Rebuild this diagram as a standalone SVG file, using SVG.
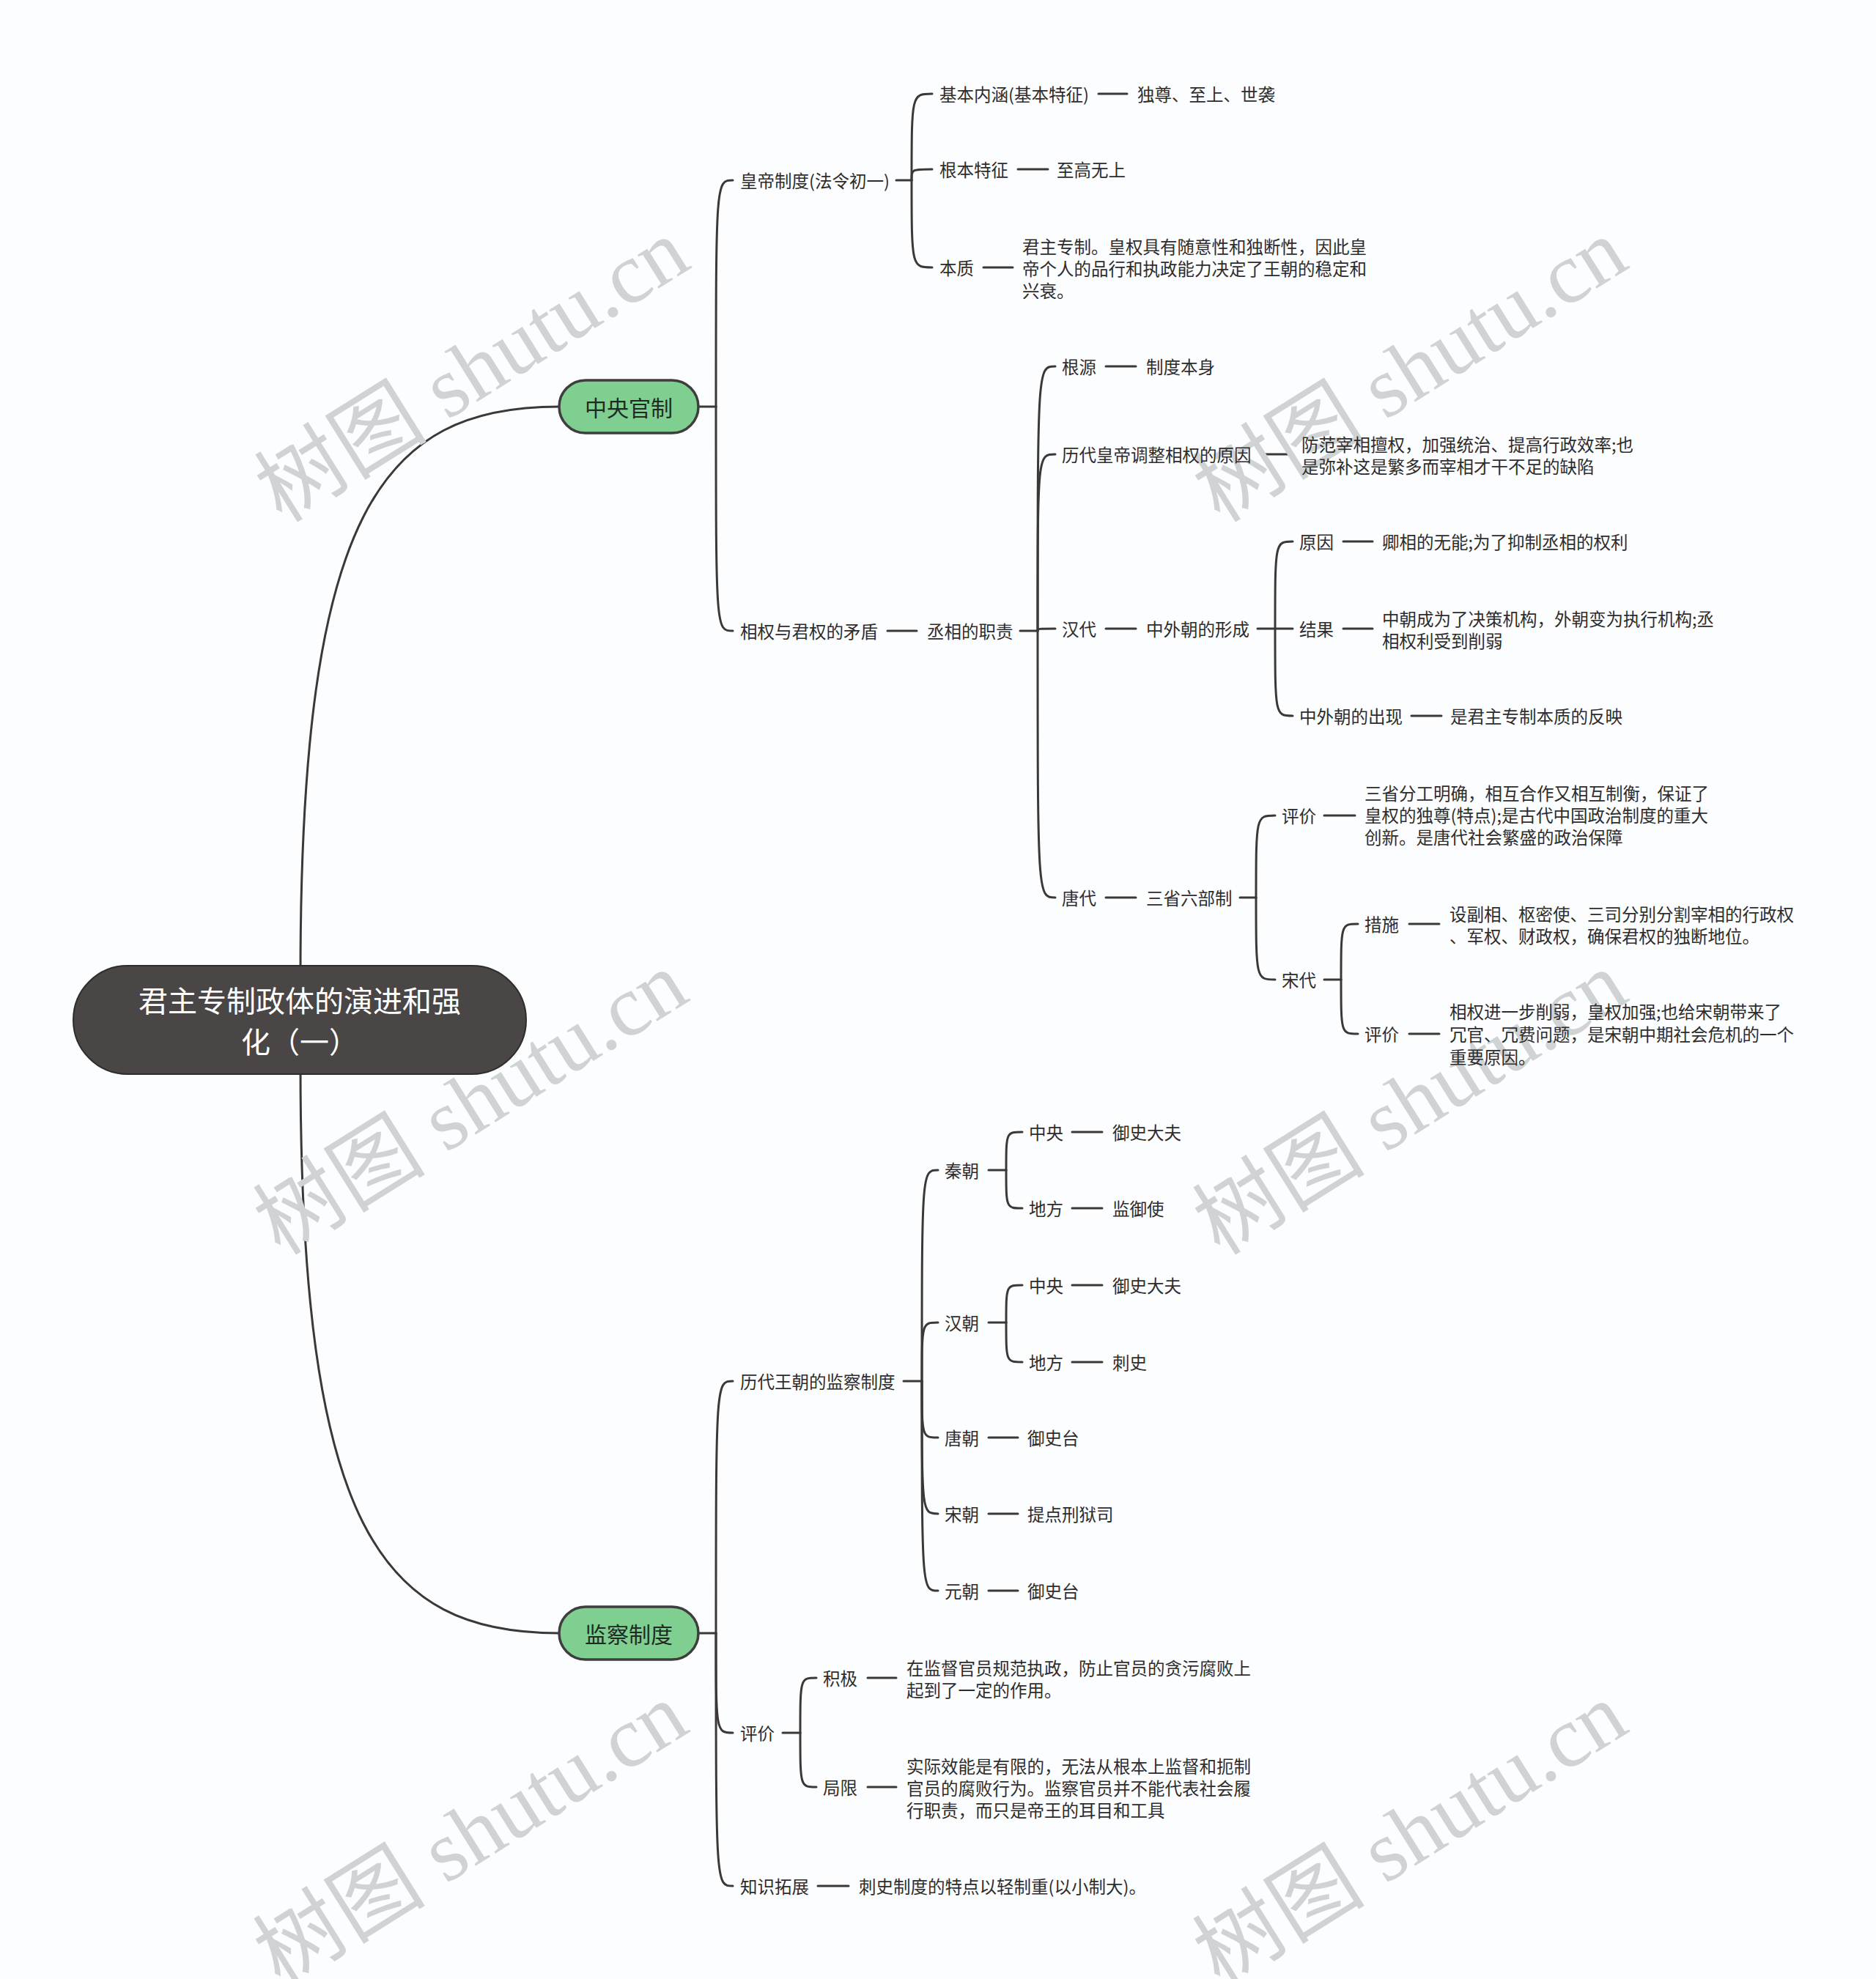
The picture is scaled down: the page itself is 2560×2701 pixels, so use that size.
<svg xmlns="http://www.w3.org/2000/svg" width="2560" height="2701" viewBox="0 0 2560 2701">
<style>
.t{font-family:"Noto Sans CJK SC","Noto Sans",sans-serif;font-size:23.5px;fill:#2e2c2c;dominant-baseline:central}
.c{fill:none;stroke:#3b3838;stroke-width:3;stroke-linecap:round}
.wm{font-family:"Liberation Serif","Noto Sans CJK SC",serif;font-size:118px;fill:#d0d3d4;text-anchor:middle}
.mn{fill:#7fcf91;stroke:#3f3d3d;stroke-width:3.5}
.mt{font-family:"Noto Sans CJK SC",sans-serif;font-size:30px;fill:#1f2a22;text-anchor:middle;dominant-baseline:central}
</style>
<rect width="2560" height="2701" fill="#fbfdfe"/>
<g id="connectors">
<path class="c" d="M410,1330 C410,700 520,555 763,555"/>
<path class="c" d="M410,1455 C410,2085 520,2229 763,2229"/>
<path class="c" d="M953,555 H977"/>
<path class="c" d="M977,555 C977,246 977,246 1000,246"/>
<path class="c" d="M977,555 C977,861 977,861 1000,861"/>
<path class="c" d="M1223,246 H1244"/>
<path class="c" d="M1244,246 C1244,128 1244,128 1272,128"/>
<path class="c" d="M1244,246 C1244,231 1244,231 1272,231"/>
<path class="c" d="M1244,246 C1244,365 1244,365 1272,365"/>
<path class="c" d="M1499,128 H1538"/>
<path class="c" d="M1389,231 H1430"/>
<path class="c" d="M1342,365 H1382"/>
<path class="c" d="M1211,861 H1251"/>
<path class="c" d="M1392,861 H1416"/>
<path class="c" d="M1416,861 C1416,500 1416,500 1440,500"/>
<path class="c" d="M1416,861 C1416,620 1416,620 1440,620"/>
<path class="c" d="M1416,861 C1416,858 1416,858 1440,858"/>
<path class="c" d="M1416,861 C1416,1225 1416,1225 1440,1225"/>
<path class="c" d="M1509,500 H1550"/>
<path class="c" d="M1723,620 H1762"/>
<path class="c" d="M1509,858 H1550"/>
<path class="c" d="M1716,858 H1740"/>
<path class="c" d="M1740,858 C1740,739 1740,739 1764,739"/>
<path class="c" d="M1740,858 H1764"/>
<path class="c" d="M1740,858 C1740,977 1740,977 1764,977"/>
<path class="c" d="M1833,739 H1873"/>
<path class="c" d="M1833,858 H1873"/>
<path class="c" d="M1926,977 H1967"/>
<path class="c" d="M1509,1225 H1550"/>
<path class="c" d="M1692,1225 H1714"/>
<path class="c" d="M1714,1225 C1714,1113 1714,1113 1740,1113"/>
<path class="c" d="M1714,1225 C1714,1337 1714,1337 1740,1337"/>
<path class="c" d="M1807,1113 H1849"/>
<path class="c" d="M1807,1337 H1830"/>
<path class="c" d="M1830,1337 C1830,1261 1830,1261 1853,1261"/>
<path class="c" d="M1830,1337 C1830,1411 1830,1411 1853,1411"/>
<path class="c" d="M1923,1261 H1964"/>
<path class="c" d="M1923,1411 H1964"/>
<path class="c" d="M953,2229 H977"/>
<path class="c" d="M977,2229 C977,1885 977,1885 1000,1885"/>
<path class="c" d="M977,2229 C977,2365 977,2365 1000,2365"/>
<path class="c" d="M977,2229 C977,2574 977,2574 1000,2574"/>
<path class="c" d="M1233,1885 H1258"/>
<path class="c" d="M1258,1885 C1258,1597 1258,1597 1280,1597"/>
<path class="c" d="M1258,1885 C1258,1805 1258,1805 1280,1805"/>
<path class="c" d="M1258,1885 C1258,1962 1258,1962 1280,1962"/>
<path class="c" d="M1258,1885 C1258,2066 1258,2066 1280,2066"/>
<path class="c" d="M1258,1885 C1258,2171 1258,2171 1280,2171"/>
<path class="c" d="M1349,1597 H1373"/>
<path class="c" d="M1373,1597 C1373,1545 1373,1545 1395,1545"/>
<path class="c" d="M1373,1597 C1373,1649 1373,1649 1395,1649"/>
<path class="c" d="M1463,1545 H1504"/>
<path class="c" d="M1463,1649 H1504"/>
<path class="c" d="M1349,1805 H1373"/>
<path class="c" d="M1373,1805 C1373,1754 1373,1754 1395,1754"/>
<path class="c" d="M1373,1805 C1373,1859 1373,1859 1395,1859"/>
<path class="c" d="M1463,1754 H1504"/>
<path class="c" d="M1463,1859 H1504"/>
<path class="c" d="M1349,1962 H1389"/>
<path class="c" d="M1349,2066 H1389"/>
<path class="c" d="M1349,2171 H1389"/>
<path class="c" d="M1068,2365 H1092"/>
<path class="c" d="M1092,2365 C1092,2290 1092,2290 1114,2290"/>
<path class="c" d="M1092,2365 C1092,2439 1092,2439 1114,2439"/>
<path class="c" d="M1184,2290 H1223"/>
<path class="c" d="M1184,2439 H1223"/>
<path class="c" d="M1116,2574 H1158"/>
</g>
<g id="watermarks">
<text class="wm" x="646" y="545" transform="rotate(-32 646 508)">树图 shutu.cn</text>
<text class="wm" x="1926" y="545" transform="rotate(-32 1926 508)">树图 shutu.cn</text>
<text class="wm" x="644" y="1545" transform="rotate(-32 644 1508)">树图 shutu.cn</text>
<text class="wm" x="1926" y="1545" transform="rotate(-32 1926 1508)">树图 shutu.cn</text>
<text class="wm" x="644" y="2543" transform="rotate(-32 644 2506)">树图 shutu.cn</text>
<text class="wm" x="1926" y="2543" transform="rotate(-32 1926 2506)">树图 shutu.cn</text>
</g>
<g id="root">
<rect x="100" y="1318" width="618" height="148" rx="74" fill="#4a4646" stroke="#2f2c2c" stroke-width="2"/>
<text x="409" y="1364" font-family="Noto Sans CJK SC,sans-serif" font-size="40" fill="#ffffff" text-anchor="middle" dominant-baseline="central">君主专制政体的演进和强</text>
<text x="409" y="1420" font-family="Noto Sans CJK SC,sans-serif" font-size="40" fill="#ffffff" text-anchor="middle" dominant-baseline="central">化（一）</text>
</g>
<g id="n-zygz">
<rect class="mn" x="763" y="519" width="190" height="72" rx="36"/>
<text class="mt" x="858" y="555">中央官制</text>
</g>
<g id="n-jczd">
<rect class="mn" x="763" y="2193" width="190" height="72" rx="36"/>
<text class="mt" x="858" y="2229">监察制度</text>
</g>
<g id="n-hdzd"><text class="t" x="1010" y="246">皇帝制度(法令初一)</text></g>
<g id="n-jbnh"><text class="t" x="1282" y="128">基本内涵(基本特征)</text></g>
<g id="n-dz"><text class="t" x="1552" y="128">独尊、至上、世袭</text></g>
<g id="n-gbtz"><text class="t" x="1282" y="231">根本特征</text></g>
<g id="n-zgws"><text class="t" x="1442" y="231">至高无上</text></g>
<g id="n-bz"><text class="t" x="1282" y="365">本质</text></g>
<g id="n-bz-v">
<text class="t" x="1395" y="336">君主专制。皇权具有随意性和独断性，因此皇</text>
<text class="t" x="1395" y="366">帝个人的品行和执政能力决定了王朝的稳定和</text>
<text class="t" x="1395" y="396">兴衰。</text>
</g>
<g id="n-xq"><text class="t" x="1010" y="861">相权与君权的矛盾</text></g>
<g id="n-cxzz"><text class="t" x="1265" y="861">丞相的职责</text></g>
<g id="n-gy"><text class="t" x="1449" y="500">根源</text></g>
<g id="n-zdbs"><text class="t" x="1564" y="500">制度本身</text></g>
<g id="n-ldhd"><text class="t" x="1449" y="620">历代皇帝调整相权的原因</text></g>
<g id="n-ldhd-v">
<text class="t" x="1776" y="606">防范宰相擅权，加强统治、提高行政效率;也</text>
<text class="t" x="1776" y="636">是弥补这是繁多而宰相才干不足的缺陷</text>
</g>
<g id="n-hd"><text class="t" x="1449" y="858">汉代</text></g>
<g id="n-zwc"><text class="t" x="1564" y="858">中外朝的形成</text></g>
<g id="n-yy"><text class="t" x="1773" y="739">原因</text></g>
<g id="n-yy-v"><text class="t" x="1886" y="739">卿相的无能;为了抑制丞相的权利</text></g>
<g id="n-jg"><text class="t" x="1773" y="858">结果</text></g>
<g id="n-jg-v">
<text class="t" x="1886" y="844">中朝成为了决策机构，外朝变为执行机构;丞</text>
<text class="t" x="1886" y="874">相权利受到削弱</text>
</g>
<g id="n-zwccx"><text class="t" x="1773" y="977">中外朝的出现</text></g>
<g id="n-zwccx-v"><text class="t" x="1979" y="977">是君主专制本质的反映</text></g>
<g id="n-td"><text class="t" x="1449" y="1225">唐代</text></g>
<g id="n-ssl"><text class="t" x="1564" y="1225">三省六部制</text></g>
<g id="n-pj1"><text class="t" x="1749" y="1113">评价</text></g>
<g id="n-pj1-v">
<text class="t" x="1862" y="1082">三省分工明确，相互合作又相互制衡，保证了</text>
<text class="t" x="1862" y="1112">皇权的独尊(特点);是古代中国政治制度的重大</text>
<text class="t" x="1862" y="1142">创新。是唐代社会繁盛的政治保障</text>
</g>
<g id="n-sd"><text class="t" x="1749" y="1337">宋代</text></g>
<g id="n-cs"><text class="t" x="1862" y="1261">措施</text></g>
<g id="n-cs-v">
<text class="t" x="1978" y="1247">设副相、枢密使、三司分别分割宰相的行政权</text>
<text class="t" x="1978" y="1277">、军权、财政权，确保君权的独断地位。</text>
</g>
<g id="n-pj2"><text class="t" x="1862" y="1411">评价</text></g>
<g id="n-pj2-v">
<text class="t" x="1978" y="1380">相权进一步削弱，皇权加强;也给宋朝带来了</text>
<text class="t" x="1978" y="1411">冗官、冗费问题，是宋朝中期社会危机的一个</text>
<text class="t" x="1978" y="1442">重要原因。</text>
</g>
<g id="n-ldwc"><text class="t" x="1010" y="1885">历代王朝的监察制度</text></g>
<g id="n-qc"><text class="t" x="1289" y="1597">秦朝</text></g>
<g id="n-qc-zy"><text class="t" x="1404" y="1545">中央</text></g>
<g id="n-qc-zy-v"><text class="t" x="1518" y="1545">御史大夫</text></g>
<g id="n-qc-df"><text class="t" x="1404" y="1649">地方</text></g>
<g id="n-qc-df-v"><text class="t" x="1518" y="1649">监御使</text></g>
<g id="n-hc"><text class="t" x="1289" y="1805">汉朝</text></g>
<g id="n-hc-zy"><text class="t" x="1404" y="1754">中央</text></g>
<g id="n-hc-zy-v"><text class="t" x="1518" y="1754">御史大夫</text></g>
<g id="n-hc-df"><text class="t" x="1404" y="1859">地方</text></g>
<g id="n-hc-df-v"><text class="t" x="1518" y="1859">刺史</text></g>
<g id="n-tc"><text class="t" x="1289" y="1962">唐朝</text></g>
<g id="n-tc-v"><text class="t" x="1402" y="1962">御史台</text></g>
<g id="n-sc"><text class="t" x="1289" y="2066">宋朝</text></g>
<g id="n-sc-v"><text class="t" x="1402" y="2066">提点刑狱司</text></g>
<g id="n-yc"><text class="t" x="1289" y="2171">元朝</text></g>
<g id="n-yc-v"><text class="t" x="1402" y="2171">御史台</text></g>
<g id="n-pj3"><text class="t" x="1010" y="2365">评价</text></g>
<g id="n-jj"><text class="t" x="1123" y="2290">积极</text></g>
<g id="n-jj-v">
<text class="t" x="1237" y="2276">在监督官员规范执政，防止官员的贪污腐败上</text>
<text class="t" x="1237" y="2306">起到了一定的作用。</text>
</g>
<g id="n-jx"><text class="t" x="1123" y="2439">局限</text></g>
<g id="n-jx-v">
<text class="t" x="1237" y="2410">实际效能是有限的，无法从根本上监督和扼制</text>
<text class="t" x="1237" y="2440">官员的腐败行为。监察官员并不能代表社会履</text>
<text class="t" x="1237" y="2470">行职责，而只是帝王的耳目和工具</text>
</g>
<g id="n-zstz"><text class="t" x="1010" y="2574">知识拓展</text></g>
<g id="n-zstz-v"><text class="t" x="1172" y="2574">刺史制度的特点以轻制重(以小制大)。</text></g>
</svg>
